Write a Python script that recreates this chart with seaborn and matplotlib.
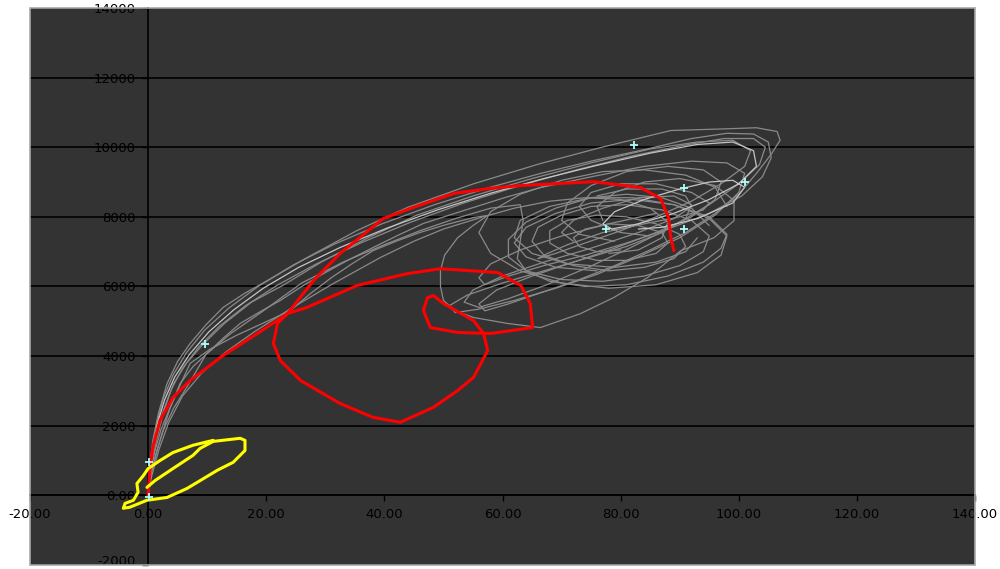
import matplotlib
matplotlib.use("Agg")
import matplotlib.pyplot as plt
from matplotlib.patches import Rectangle
import seaborn as sns
import pandas as pd

# ---------------- data ----------------
x_ticks = [-20, 0, 20, 40, 60, 80, 100, 120, 140]
x_tick_labels = ["-20.00", "0.00", "20.00", "40.00", "60.00", "80.00", "100.00", "120.00", "140.00"]
y_ticks = [-2000, 0, 2000, 4000, 6000, 8000, 10000, 12000, 14000]
y_tick_labels = ["-2000", "0.00", "2000", "4000", "6000", "8000", "10000", "12000", "14000"]

gray1_x = [0, 0.2, 0.8, 1.8, 3.2, 5.0, 7.1, 9.8, 12.7, 16.3, 20.2, 26.9, 35.4, 43.9, 55.1, 66.4, 76.6, 88.5, 98.1, 103,
           106.5, 107, 105.5, 103, 100, 96, 91, 85, 79, 73, 67, 61, 57, 56, 59, 65, 72, 79, 86, 92, 96, 97, 94, 88, 81,
           75, 71, 70, 73, 79]
gray1_y = [0, 700, 1580, 2400, 3210, 3850, 4360, 4900, 5400, 5800, 6170, 6830, 7610, 8270, 8950, 9530, 9990, 10480,
           10530, 10560, 10450, 10200, 9800, 9250, 8650, 8100, 7550, 7050, 6600, 6200, 5850, 5500, 5300, 5500, 5900,
           6300, 6700, 7100, 7550, 8000, 8500, 9000, 9350, 9450, 9300, 8900, 8400, 7900, 7500, 7300]

gray2_x = [0, 0.4, 1.4, 2.8, 4.3, 6.5, 9.4, 13, 17.5, 23, 29.5, 37, 45.5, 55, 65, 75, 85, 93, 99, 102, 101, 97, 92, 86,
           80, 74, 69, 66, 67, 71, 77, 84, 90, 94, 95, 92, 86, 80, 75, 73, 75, 80, 85]
gray2_y = [0, 700, 1580, 2500, 3210, 3800, 4360, 4950, 5550, 6050, 6720, 7380, 8050, 8600, 9100, 9550, 9950, 10150,
           10200, 9900, 9450, 8950, 8450, 8000, 7600, 7250, 6950, 6800, 6900, 7200, 7550, 7800, 8000, 8200, 8400,
           8700, 8950, 8950, 8700, 8300, 7900, 7550, 7450]

gray3_x = [0, 0.5, 2.0, 3.6, 5.4, 7.6, 10.0, 12.8, 15.6, 19, 22.4, 26, 29.7, 34, 38.1, 42.3, 46.6, 51, 55.1, 60.5,
           66.4, 75, 84, 92, 98, 101, 100, 96, 90, 83, 76, 69, 62, 56, 52, 51, 54, 60, 67, 74, 81, 87, 91, 92, 89,
           83, 77, 72, 70, 72]
gray3_y = [0, 650, 1580, 2450, 3210, 3700, 4080, 4530, 4940, 5280, 5600, 6000, 6370, 6770, 7120, 7470, 7810, 8050,
           8270, 8560, 8840, 9150, 9450, 9600, 9550, 9250, 8700, 8050, 7400, 6850, 6350, 5950, 5600, 5350, 5250,
           5450, 5750, 6100, 6450, 6800, 7150, 7550, 7950, 8350, 8600, 8550, 8250, 7900, 7550, 7300]

gray4_x = [0, 0.4, 1.1, 2.2, 3.8, 5.5, 7.1, 10.5, 15, 19.5, 24.1, 27.5, 31, 34.5, 38.1, 42, 46, 50.5, 55.1, 57.5, 55,
           52.4, 50.2, 49.5, 49.5, 50.0, 52, 55.1, 60.8, 66.4, 73.2, 78.8, 84.6, 90.2, 95.8, 99.2, 99.2, 96, 90, 84,
           79, 76, 77]
gray4_y = [0, 600, 1250, 1900, 2550, 3200, 3790, 4200, 4600, 4950, 5310, 5800, 6250, 6650, 7030, 7300, 7550, 7780,
           7980, 8040, 7750, 7400, 6900, 6460, 6000, 5600, 5300, 5110, 4940, 4820, 5220, 5680, 6260, 7030, 7400,
           7890, 8470, 8900, 9100, 9000, 8700, 8300, 7900]

gray5_x = [95, 92, 87, 81, 75, 69, 64, 61, 61, 64, 70, 77, 84, 90, 94, 95, 92, 87, 81, 75, 70, 66, 65, 67, 72, 78, 84,
           89, 91, 90, 86, 81, 76, 71, 68, 68, 71, 76, 81, 86, 88, 87, 83, 78, 74, 72, 73, 76, 80]
gray5_y = [7750, 8250, 8550, 8650, 8550, 8250, 7850, 7350, 6850, 6450, 6200, 6150, 6300, 6600, 7000, 7450, 7900, 8200,
           8350, 8300, 8050, 7700, 7300, 6900, 6600, 6450, 6550, 6800, 7150, 7500, 7800, 8000, 8050, 7900, 7600,
           7250, 6950, 6750, 6750, 6950, 7250, 7550, 7750, 7800, 7650, 7400, 7150, 7000, 7050]

gray7_x = [0, 0.3, 0.8, 1.5, 2.6, 4.2, 6.5, 9.6, 13.6, 18.6, 24.6, 31.6, 39.6, 48.5, 57.5, 66.5, 75.5, 84.5, 92, 98,
           102.5, 105, 105.5, 104, 100.5, 95, 88, 81, 74, 67, 61, 57, 56, 58, 63, 70, 78, 86]
gray7_y = [0, 700, 1420, 2100, 2800, 3450, 4100, 4750, 5370, 6000, 6620, 7220, 7800, 8350, 8830, 9250, 9620, 9950,
           10250, 10400, 10380, 10150, 9700, 9150, 8600, 8100, 7650, 7250, 6900, 6600, 6300, 6050, 6250, 6650,
           7050, 7450, 7800, 8100]

gray8_x = [0, 0.5, 1.4, 2.6, 4.3, 6.6, 9.8, 14, 19.5, 26, 33, 40, 46, 52, 58, 63, 63.5, 63, 62.5, 64, 68, 74, 81, 88,
           94, 97, 98, 95, 89, 82, 75, 69, 64, 62, 64, 69, 76]
gray8_y = [0, 620, 1250, 1880, 2500, 3120, 4050, 4650, 5300, 6100, 6700, 7200, 7600, 7950, 8250, 8350, 7900, 7300,
           6800, 6450, 6150, 6000, 6050, 6300, 6700, 7100, 7500, 8000, 8350, 8500, 8400, 8100, 7700, 7250, 6850,
           6550, 6450]

gray10_x = [0, 0.6, 1.8, 3.5, 5.8, 9, 13, 18, 24, 31, 39.3, 45, 50, 56.3, 62, 68, 74, 80, 85, 88, 87, 83, 78]
gray10_y = [0, 550, 1300, 2100, 2850, 3500, 4100, 4700, 5350, 6050, 6830, 7300, 7650, 7980, 8250, 8450, 8550, 8500,
            8250, 7850, 7400, 7050, 6950]

gray11_x = [0, 0.3, 1.0, 2.2, 3.8, 5.8, 8.5, 12, 16.5, 22, 28.5, 36, 44.5, 53.5, 63, 72.5, 82, 90.5, 97.5, 102.5,
            104.5, 103.5, 100, 95, 88.5, 81.5, 74.5, 67.5, 61, 56, 53.5, 55, 60, 67, 75, 83, 89, 92, 91, 87, 81, 76]
gray11_y = [0, 660, 1450, 2250, 3000, 3650, 4250, 4850, 5450, 6050, 6650, 7250, 7850, 8400, 8900, 9350, 9750, 10050,
            10250, 10250, 10000, 9500, 8950, 8350, 7700, 7100, 6550, 6050, 5650, 5400, 5550, 5900, 6300, 6700, 7100,
            7550, 7950, 8300, 8600, 8800, 8800, 8600]

gray12_x = [98, 96, 91, 84, 77, 70, 63, 58, 56, 58, 63, 70, 78, 86, 93, 97, 98, 95, 89, 82, 75, 68, 63, 62, 65, 71,
            79, 86, 91, 93]
gray12_y = [8300, 8850, 9200, 9350, 9300, 9050, 8650, 8150, 7550, 6950, 6450, 6100, 5950, 6050, 6400, 6900, 7450,
            7950, 8350, 8550, 8550, 8300, 7900, 7400, 6950, 6650, 6550, 6700, 7000, 7400]

light_x = [0, 0.3, 0.9, 1.6, 2.8, 4.5, 7.0, 10.3, 14.5, 19.5, 25.5, 32.5, 40.5, 49, 58, 67, 76, 85, 93, 99, 102.5,
           103, 100, 95, 89, 83, 78.5, 77, 79, 84, 90, 95, 99, 101, 99, 93, 87, 83]
light_y = [0, 680, 1400, 2080, 2750, 3400, 4050, 4700, 5330, 5950, 6550, 7120, 7680, 8200, 8680, 9100, 9480, 9830,
           10080, 10150, 9900, 9450, 8950, 8500, 8100, 7800, 7650, 7800, 8150, 8500, 8800, 9000, 9050, 8850, 8400,
           7950, 7700, 7650]

red_x = [0, 0.3, 0.8, 2.0, 4.2, 7.1, 12.7, 18.5, 23.6, 21.9, 21.2, 22.4, 25.8, 32.5, 38.1, 42.7, 48.3, 52.4, 55.1,
         57.5, 56.8, 55.1, 50.0, 48.3, 47.3, 46.6, 47.8, 52.4, 58.0, 65.1, 64.7, 63.1, 59.2, 49.5, 43.9, 35.4, 26.9,
         23.6, 28.0, 32.5, 39.8, 44.9, 51.7, 57.5, 63.1, 75.4, 83.4, 86.8, 88.1, 88.5, 89.0]
red_y = [0, 720, 1380, 2150, 2810, 3300, 4020, 4650, 5220, 4940, 4360, 3870, 3300, 2640, 2240, 2100, 2530, 3010, 3390,
         4160, 4650, 5020, 5510, 5740, 5680, 5310, 4820, 4680, 4650, 4820, 5510, 6030, 6400, 6510, 6370, 6030, 5400,
         5220, 6170, 6950, 7950, 8270, 8670, 8810, 8900, 9010, 8840, 8520, 7980, 7400, 7030]

yellow_x = [-0.2, 1.2, 4.2, 7.6, 8.8, 11.0, 15.6, 16.4, 16.4, 14.4, 11.7, 6.6, 3.2, -0.2, -3.1, -4.2, -3.9, -2.5, -1.7,
            -1.9, -0.8, 0, 2.0, 4.2, 7.6, 11.0]
yellow_y = [230, 430, 770, 1150, 1350, 1550, 1640, 1580, 1290, 950, 720, 200, -60, -140, -340, -370, -230, -140, 90,
            340, 570, 770, 1000, 1230, 1440, 1580]

marker_x = [0.2, 0.2, 9.7, 82.2, 90.7, 101.0, 77.5, 90.7]
marker_y = [950, -50, 4360, 10050, 8840, 9010, 7660, 7660]

# ---------------- figure ----------------
sns.set_theme(style="white")
plt.rcParams["font.family"] = ["DejaVu Sans"]

fig = plt.figure(figsize=(10, 5.69), dpi=100)
fig.patch.set_facecolor("white")
ax = fig.add_axes([0.030, 0.007, 0.945, 0.979])
ax.set_facecolor("#333333")


def curve(xs, ys, color, lw, z):
    n = min(len(xs), len(ys))
    df = pd.DataFrame({"x": xs[:n], "y": ys[:n]})
    sns.lineplot(data=df, x="x", y="y", sort=False, estimator=None, color=color,
                 lw=lw, ax=ax, legend=False, zorder=z)


gray = "#8a8a8a"
for gx, gy in [(gray1_x, gray1_y), (gray2_x, gray2_y), (gray3_x, gray3_y), (gray4_x, gray4_y),
               (gray5_x, gray5_y), (gray7_x, gray7_y), (gray8_x, gray8_y), (gray10_x, gray10_y),
               (gray11_x, gray11_y), (gray12_x, gray12_y)]:
    curve(gx, gy, gray, 0.9, 3)
curve(light_x, light_y, "#c4c4c4", 0.9, 3.1)
curve(red_x, red_y, "#ff0000", 2.2, 4)
curve(yellow_x, yellow_y, "#ffff00", 2.2, 4)

sns.scatterplot(x=marker_x, y=marker_y, marker="+", s=30, color="#aaffff", linewidth=1.3, ax=ax, zorder=5,
                legend=False)

ax.set_xlim(-20, 140)
ax.set_ylim(-2000, 14000)
ax.set_xlabel("")
ax.set_ylabel("")

ax.set_xticks(x_ticks)
ax.set_xticklabels(x_tick_labels)
ax.set_yticks(y_ticks)
ax.set_yticklabels(y_tick_labels)

ax.spines["left"].set_position(("data", 0))
ax.spines["bottom"].set_position(("data", 0))
for s in ["left", "bottom"]:
    ax.spines[s].set_color("black")
    ax.spines[s].set_linewidth(1.2)
    ax.spines[s].set_zorder(2.5)
for s in ["top", "right"]:
    ax.spines[s].set_visible(False)
ax.add_patch(Rectangle((0, 0), 1, 1, transform=ax.transAxes, fill=False, edgecolor="#a8a8a8",
                       lw=1.2, clip_on=False, zorder=6))

ax.tick_params(axis="both", direction="out", length=4, width=1, color="black",
               labelsize=9.5, labelcolor="black", pad=5, bottom=True, left=True)
# keep the bottom label inside the figure
ax.get_yticklabels()[0].set_verticalalignment("baseline")

ax.yaxis.grid(True, color="black", lw=1.2)
ax.xaxis.grid(False)
ax.set_axisbelow(True)

fig.savefig("out.png", dpi=100, facecolor="white")
